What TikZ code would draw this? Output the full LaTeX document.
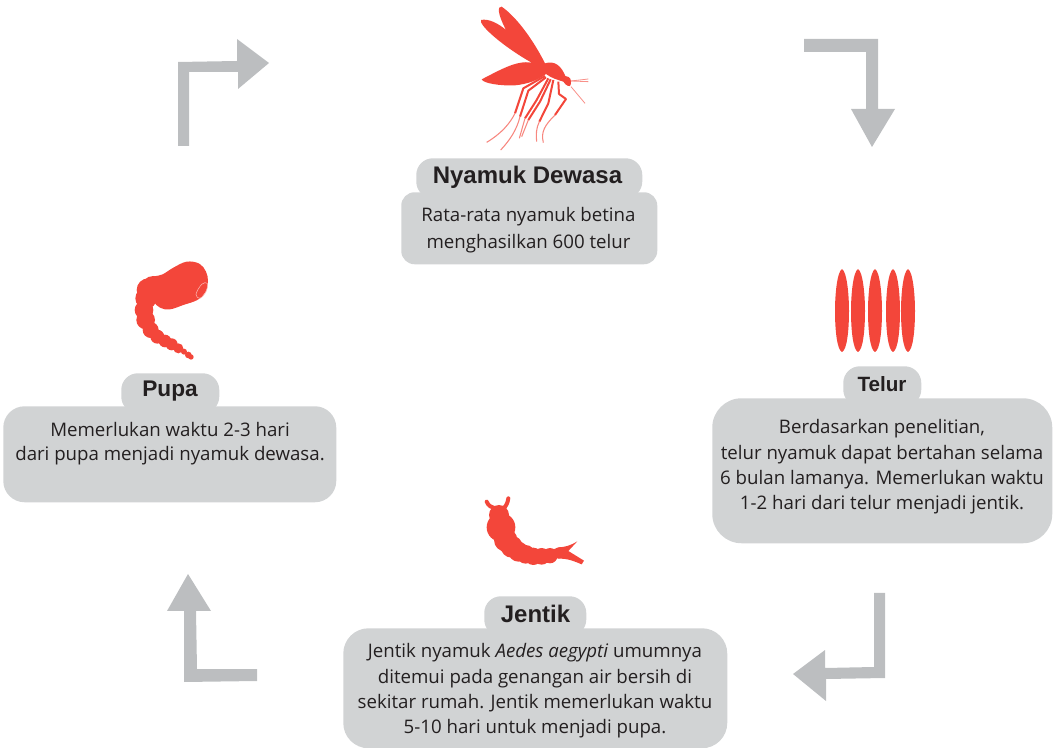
\documentclass[tikz,border=0pt]{standalone}
\usepackage{fontspec}
\setmainfont{Open Sans}
\newfontfamily\labfont{Liberation Sans}
\definecolor{boxgrey}{HTML}{D1D3D4}
\definecolor{arrowgrey}{HTML}{BCBEC0}
\definecolor{bugred}{HTML}{F3463A}
\definecolor{ink}{HTML}{231F20}
\tikzset{
  infobox/.style={fill=boxgrey,draw=none,anchor=north west,inner sep=0pt},
  infotext/.style={text=ink,align=center,inner sep=0pt,font=\fontsize{14pt}{#1}\selectfont},
  infotext/.default=19pt,
  pill/.style={fill=boxgrey,draw=none,rounded corners=12.5pt,anchor=north west,inner sep=0pt},
  pilltext/.style={text=ink,inner sep=0pt,font=\labfont\bfseries\fontsize{#1}{#1}\selectfont},
  cyclearrow/.style={fill=arrowgrey,draw=none},
  bug/.style={fill=bugred,draw=none},
  leg/.style={draw=bugred,line width=1.5pt,line join=round,fill=none},
  legtip/.style={draw=bugred!65,line width=.8pt,line join=round,fill=none},
  antenna/.style={draw=bugred!60,line width=.6pt,fill=none},
  zoomed/.style={x=0.25pt,y=-0.25pt}
}
\begin{document}
\begin{tikzpicture}[x=0.75pt,y=-0.75pt]
\useasboundingbox (0,0) rectangle (1054,748);

% cycle arrows
\fill[cyclearrow] (178,146)--(178,62)--(237,61)--(237,39)--(269,63)--(238,89)--(238,72)--(189,72)--(189,146)--cycle;
\fill[cyclearrow] (804,39)--(878,39)--(878,109)--(895,109)--(872,147)--(851,109)--(866,109)--(866,52)--(804,52)--cycle;
\fill[cyclearrow] (874,593)--(885,593)--(885,678)--(826,679)--(826,701)--(793,674)--(825,650)--(825,668)--(874,667)--cycle;
\fill[cyclearrow] (257,681)--(184,682)--(184,611)--(167,611)--(188,574)--(211,611)--(196,611)--(197,669)--(257,669)--cycle;

% mosquito
\begin{scope}[shift={(460,0)},zoomed]
  \fill[bug] (255,190) .. controls (225,130) and (175,55) .. (125,20)
     .. controls (112,18) and (112,40) .. (138,90)
     .. controls (115,70) and (85,55) .. (63,60)
     .. controls (55,75) and (130,140) .. (215,188)
     .. controls (170,180) and (120,210) .. (65,238)
     .. controls (70,250) and (120,258) .. (165,256)
     .. controls (205,252) and (235,240) .. (258,222)
     .. controls (275,235) and (295,240) .. (310,245)
     .. controls (318,258) and (330,262) .. (332,255)
     .. controls (335,240) and (332,230) .. (316,228)
     .. controls (305,200) and (285,180) .. (255,190) -- cycle;
  \draw[leg] (255,228)--(190,265)--(165,340);
  \draw[legtip] (165,340) .. controls (150,370) and (125,400) .. (80,427);
  \draw[leg] (258,232)--(205,272)--(180,350);
  \draw[legtip] (180,350) .. controls (170,390) and (150,420) .. (122,450);
  \draw[leg] (265,235)--(230,300)--(195,355);
  \draw[legtip] (195,355)--(178,415);
  \draw[leg] (272,238)--(240,305)--(205,360);
  \draw[legtip] (205,360)--(185,410);
  \draw[leg] (280,240)--(265,310)--(238,365);
  \draw[legtip] (238,365) .. controls (228,385) and (228,405) .. (230,425);
  \draw[leg] (295,245)--(297,282)--(318,297)--(285,345);
  \draw[legtip] (285,345) .. controls (255,375) and (242,395) .. (250,428);
  \draw[antenna] (333,243)--(385,237);
  \draw[antenna] (333,243)--(385,245);
  \draw[antenna] (333,260)--(375,310);
\end{scope}

% eggs
\foreach \ex in {842,858,875,893,908}{
  \fill[bug] (\ex,269) .. controls (\ex+5,272) and (\ex+7,295) .. (\ex+7,311)
     .. controls (\ex+7,330) and (\ex+5,350) .. (\ex,352)
     .. controls (\ex-5,350) and (\ex-7,330) .. (\ex-7,311)
     .. controls (\ex-7,295) and (\ex-5,272) .. (\ex,269) -- cycle;
}

% pupa
\begin{scope}[shift={(120,255)},zoomed]
  \fill[bug] plot[smooth cycle,tension=0.6] coordinates {(160,38)(200,20)(238,26)(258,50)(264,80)(256,112)(232,135)(190,150)(150,163)(120,158)(100,135)(85,75)(128,58)};
  \foreach \cx/\cy/\r in {100/100/37,85/105/35,78/130/32,72/165/28,77/195/28,92/225/24,112/245/21,135/258/19,155/268/18,175/280/15,192/290/9,205/300/10,213/306/8}
    \fill[bug] (\cx,\cy) circle[radius=\r];
  \draw[white!60!bugred,line width=.4pt] plot[smooth cycle,tension=0.6] coordinates {(228,118)(245,88)(262,85)(258,110)(240,130)};
\end{scope}

% larva
\begin{scope}[shift={(475,490)},zoomed]
  \draw[bugred,line width=3pt,line cap=round] (35,35) .. controls (40,48) and (50,52) .. (60,55);
  \draw[bugred,line width=3pt,line cap=round] (100,25) .. controls (98,40) and (92,50) .. (85,55);
  \foreach \cx/\cy/\r in {72/75/30,78/112/43,92/150/35,110/170/33,130/185/30,152/193/28,175/199/26,200/199/25,225/197/23,250/189/17}
    \fill[bug] (\cx,\cy) circle[radius=\r];
  \fill[bug] (250,172) .. controls (270,172) and (290,165) .. (307,154) -- (280,183) -- (327,212) -- (320,223) .. controls (300,215) and (280,205) .. (250,206) -- cycle;
\end{scope}

% Nyamuk Dewasa
\node[pill,minimum width=169.5pt,minimum height=30pt] (adultpill) at (416,158) {};
\node[infobox,rounded corners=10pt,minimum width=192pt,minimum height=54pt] (adultbox) at (401,192) {};
\node[infotext=20.25pt] (adulttext) at (528.5,230) {Rata-rata nyamuk betina\\menghasilkan 600 telur};
\node[pilltext=18pt] (adultlabel) at (527.5,177.5) {Nyamuk Dewasa};

% Telur
\node[pill,minimum width=58.5pt,minimum height=30pt] (eggpill) at (843,366) {};
\node[infobox,rounded corners=22pt,minimum width=255pt,minimum height=108.75pt] (eggbox) at (712,398) {};
\node[infotext] (eggtext) at (882,467) {Berdasarkan penelitian,\\telur nyamuk dapat bertahan selama\\6 bulan lamanya. Memerlukan waktu\\1-2 hari dari telur menjadi jentik.};
\node[pilltext=15.5pt] (egglabel) at (882,384.5) {Telur};

% Pupa
\node[pill,minimum width=73.5pt,minimum height=30pt] (pupapill) at (121,373) {};
\node[infobox,rounded corners=16pt,minimum width=249.75pt,minimum height=72pt] (pupabox) at (3,406) {};
\node[infotext=18pt] (pupatext) at (170,444) {Memerlukan waktu 2-3 hari\\dari pupa menjadi nyamuk dewasa.};
\node[pilltext=17pt] (pupalabel) at (170,391) {Pupa};

% Jentik
\node[pill,minimum width=76.5pt,minimum height=30pt] (larvapill) at (484,596) {};
\node[infobox,rounded corners=19pt,minimum width=288pt,minimum height=90pt] (larvabox) at (343,628) {};
\node[infotext] (larvatext) at (535,691) {Jentik nyamuk \textit{Aedes aegypti} umumnya\\ditemui pada genangan air bersih di\\sekitar rumah. Jentik memerlukan waktu\\5-10 hari untuk menjadi pupa.};
\node[pilltext=18pt] (larvalabel) at (535.5,613.5) {Jentik};
\end{tikzpicture}
\end{document}
